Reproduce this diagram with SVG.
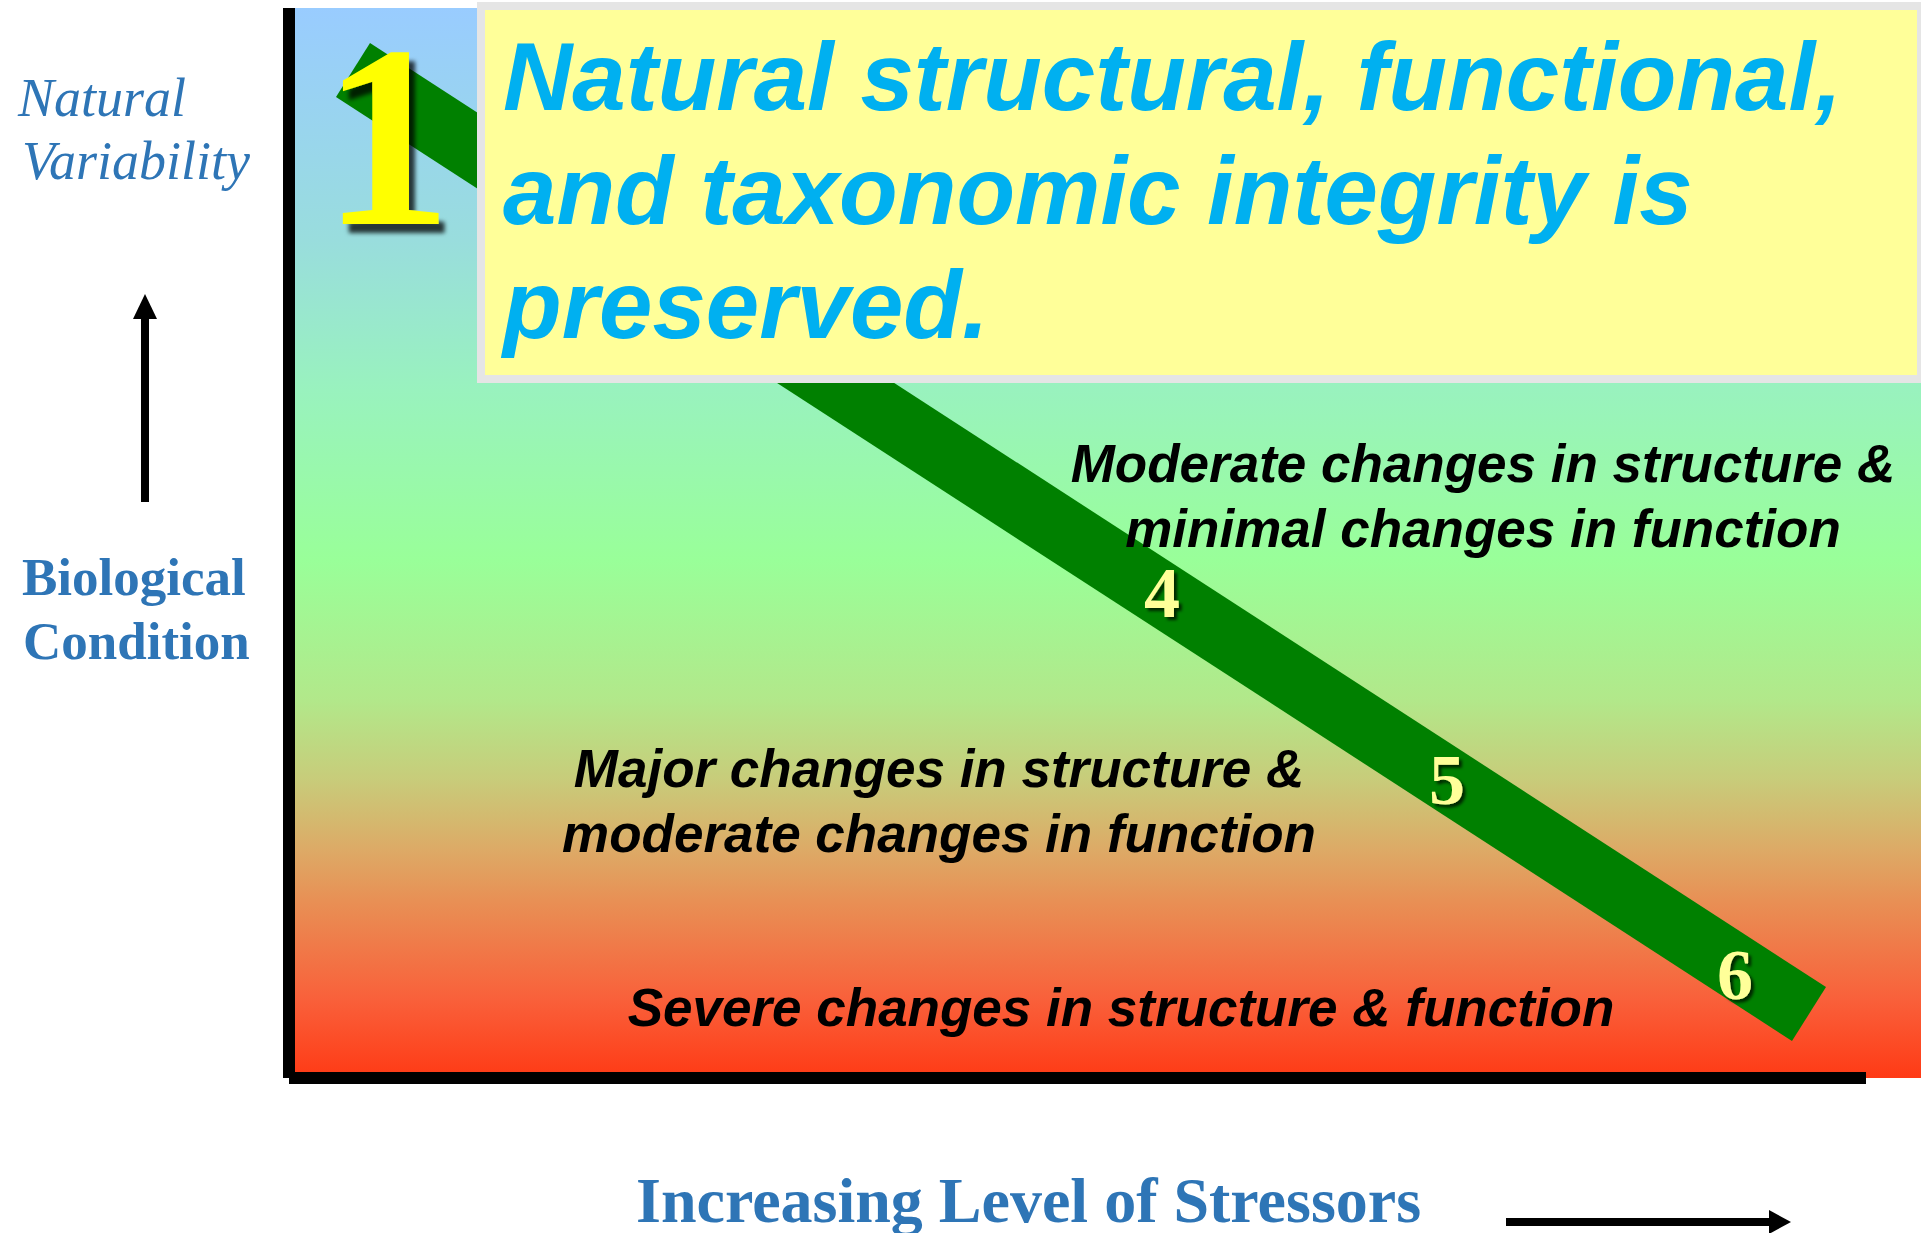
<svg xmlns="http://www.w3.org/2000/svg" width="1921" height="1233" viewBox="0 0 1921 1233">
  <defs>
    <linearGradient id="bg" x1="0" y1="0" x2="0" y2="1">
      <stop offset="0" stop-color="#99CCFF"/>
      <stop offset="0.217" stop-color="#99DDDD"/>
      <stop offset="0.357" stop-color="#99F2BE"/>
      <stop offset="0.516" stop-color="#99FF99"/>
      <stop offset="0.647" stop-color="#B2E88A"/>
      <stop offset="0.721" stop-color="#C8CC7A"/>
      <stop offset="0.787" stop-color="#DDAA66"/>
      <stop offset="0.834" stop-color="#E89055"/>
      <stop offset="0.927" stop-color="#F9603A"/>
      <stop offset="1" stop-color="#FF3A15"/>
    </linearGradient>
    <filter id="shadowBig" x="-20%" y="-20%" width="150%" height="150%">
      <feDropShadow dx="6" dy="9" stdDeviation="2" flood-color="#000" flood-opacity="0.75"/>
    </filter>
    <filter id="shadowSmall" x="-30%" y="-30%" width="170%" height="170%">
      <feDropShadow dx="3" dy="3" stdDeviation="1.5" flood-color="#000" flood-opacity="0.7"/>
    </filter>
  </defs>
  <style>
    .axis-label { font-family: "Liberation Serif", "Times New Roman", serif; fill: #2E75B6; }
    .zone { font-family: "Liberation Sans", Arial, sans-serif; font-weight: bold; font-style: italic; font-size: 53px; fill: #000; text-anchor: middle; }
    .headline { font-family: "Liberation Sans", Arial, sans-serif; font-weight: bold; font-style: italic; font-size: 96px; fill: #00B0F0; }
    .num { font-family: "Liberation Serif", "Times New Roman", serif; font-weight: bold; font-size: 72px; fill: #FFFF99; text-anchor: middle; filter: url(#shadowSmall); }
    .axisbar { fill: #000; }
  </style>

  <rect width="1921" height="1233" fill="#FFFFFF"/>

  <g id="plot-area">
    <rect x="295" y="8" width="1626" height="1070" fill="url(#bg)"/>
  </g>

  <g id="connectors">
    <polygon id="condition-band" points="370,43 1826,987 1792,1041 336,97" fill="#008000"/>
    <rect class="axisbar" x="283" y="8" width="12" height="1070"/>
    <rect class="axisbar" x="289" y="1072" width="1577" height="12"/>
    <rect class="axisbar" x="141" y="317" width="8" height="185"/>
    <polygon class="axisbar" points="145,294 133,319 157,319"/>
    <rect class="axisbar" x="1506" y="1218" width="264" height="8"/>
    <polygon class="axisbar" points="1791,1222 1769,1210 1769,1234"/>
  </g>

  <g id="level-1">
    <text x="387" y="224" text-anchor="middle" font-family="'Liberation Serif', 'Times New Roman', serif" font-weight="bold" font-size="260" fill="#FFFF00" filter="url(#shadowBig)">1</text>
  </g>

  <g id="headline-box">
    <rect x="481" y="6" width="1440" height="373" fill="#FFFF99" stroke="#E5E5E5" stroke-width="8"/>
    <text class="headline" x="503" y="110">Natural structural, functional,</text>
    <text class="headline" x="503" y="224">and taxonomic integrity is</text>
    <text class="headline" x="503" y="338">preserved.</text>
  </g>

  <g id="y-axis-labels">
    <text class="axis-label" x="18" y="116" font-style="italic" font-size="54">Natural</text>
    <text class="axis-label" x="22" y="179" font-style="italic" font-size="54">Variability</text>
    <text class="axis-label" x="22" y="595" font-weight="bold" font-size="53">Biological</text>
    <text class="axis-label" x="23" y="659" font-weight="bold" font-size="53">Condition</text>
  </g>

  <g id="x-axis-label">
    <text class="axis-label" x="636" y="1222" font-weight="bold" font-size="64">Increasing Level of Stressors</text>
  </g>

  <g id="zone-moderate">
    <text class="zone" x="1483" y="482">Moderate changes in structure &amp;</text>
    <text class="zone" x="1483" y="547">minimal changes in function</text>
  </g>

  <g id="zone-major">
    <text class="zone" x="939" y="787">Major changes in structure &amp;</text>
    <text class="zone" x="939" y="852">moderate changes in function</text>
  </g>

  <g id="zone-severe">
    <text class="zone" x="1121" y="1026">Severe changes in structure &amp; function</text>
  </g>

  <g id="level-4"><text class="num" x="1162" y="617">4</text></g>
  <g id="level-5"><text class="num" x="1447" y="804">5</text></g>
  <g id="level-6"><text class="num" x="1735" y="999">6</text></g>
</svg>
